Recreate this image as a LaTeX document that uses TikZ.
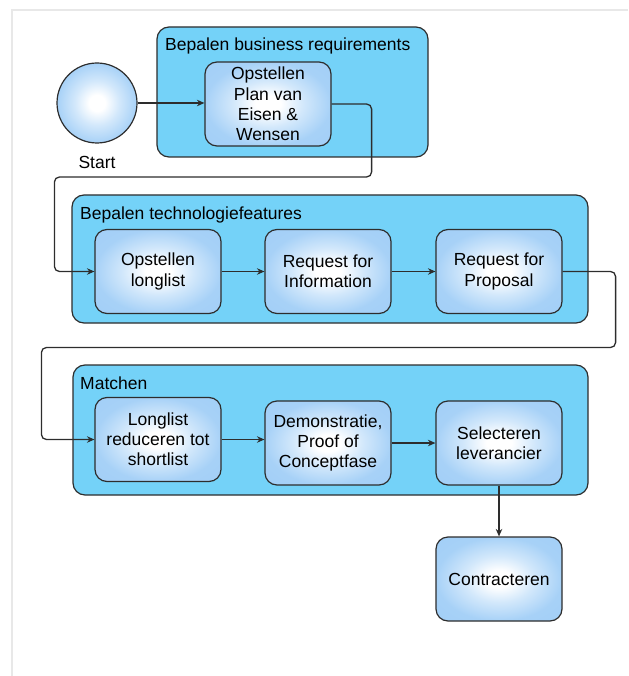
\documentclass[tikz,border=0pt]{standalone}
\usepackage{fontspec}
\setmainfont{Liberation Sans}
\usetikzlibrary{arrows.meta}
\definecolor{groupblue}{RGB}{116,210,248}
\definecolor{taskblue}{RGB}{155,203,246}
\definecolor{framegray}{RGB}{232,232,232}
\definecolor{linegray}{RGB}{45,45,45}
\pgfdeclareradialshading{taskshade}{\pgfpoint{0bp}{0bp}}{%
  color(0bp)=(white); color(5bp)=(white); color(14bp)=(taskblue!45!white);
  color(25bp)=(taskblue!88!white); color(50bp)=(taskblue)}
\tikzset{
  group/.style={draw=linegray, line width=1.2pt, fill=groupblue,
    rounded corners=12pt, inner sep=0pt},
  grouptitle/.style={anchor=base west, inner sep=0pt},
  task/.style={draw=linegray, line width=1.2pt, shading=taskshade,
    rounded corners=12pt, minimum width=126pt, minimum height=84pt,
    align=center, inner sep=0pt},
  flow/.style={draw=linegray, line width=1.3pt, rounded corners=5pt,
    -{Stealth[length=7.5pt,width=6.5pt,inset=2.5pt]}}
}
\begin{document}
\begin{tikzpicture}[x=1pt,y=-1pt,
    font=\fontsize{17.5}{20.2}\selectfont]
  \useasboundingbox (0,0) rectangle (628,676);
  % page frame
  \draw[framegray, line width=1.5pt] (12,676) -- (12,10) -- (628,10);

  % Start event
  \node[circle, draw=linegray, line width=1.2pt, shading=taskshade,
    minimum size=80pt, inner sep=0pt] (start) at (97,103) {};
  \node (startlabel) at (97,162) {Start};

  % Bepalen business requirements
  \node[group, minimum width=271pt, minimum height=130pt] (g1) at (292.5,92) {};
  \node[grouptitle] (g1title) at (165,51) {Bepalen business requirements};
  \node[task] (t1) at (268,104) {Opstellen\\Plan van\\Eisen \&\\Wensen};

  % Bepalen technologiefeatures
  \node[group, minimum width=516pt, minimum height=128pt] (g2) at (330,259) {};
  \node[grouptitle] (g2title) at (80,219) {Bepalen technologiefeatures};
  \node[task] (t2) at (158,271.5) {Opstellen\\longlist};
  \node[task] (t3) at (328,271.5) {Request for\\Information};
  \node[task] (t4) at (499,271.5) {Request for\\Proposal};

  % Matchen
  \node[group, minimum width=515pt, minimum height=130pt] (g3) at (330.5,430) {};
  \node[grouptitle] (g3title) at (80,389) {Matchen};
  \node[task] (t5) at (158,439.5) {Longlist\\reduceren tot\\shortlist};
  \node[task] (t6) at (328,443) {Demonstratie,\\Proof of\\Conceptfase};
  \node[task] (t7) at (499,443) {Selecteren\\leverancier};

  % Contracteren
  \node[task] (t8) at (499,579) {Contracteren};

  % the flows
  \draw[flow] (start.east) -- (start.east -| t1.west);
  \draw[flow] (t1.east) -- ++(40,0) -- ++(0,73)
    -| ([xshift=-40pt]t2.west) -- (t2.west);
  \draw[flow] (t2) -- (t3);
  \draw[flow] (t3) -- (t4);
  \draw[flow] (t4.east) -- ++(53,0) -- ++(0,76)
    -| ([xshift=-53pt]t5.west) -- (t5.west);
  \draw[flow] (t5.east) -- (t5.east -| t6.west);
  \draw[flow] (t6) -- (t7);
  \draw[flow] (t7) -- (t8);
\end{tikzpicture}
\end{document}
